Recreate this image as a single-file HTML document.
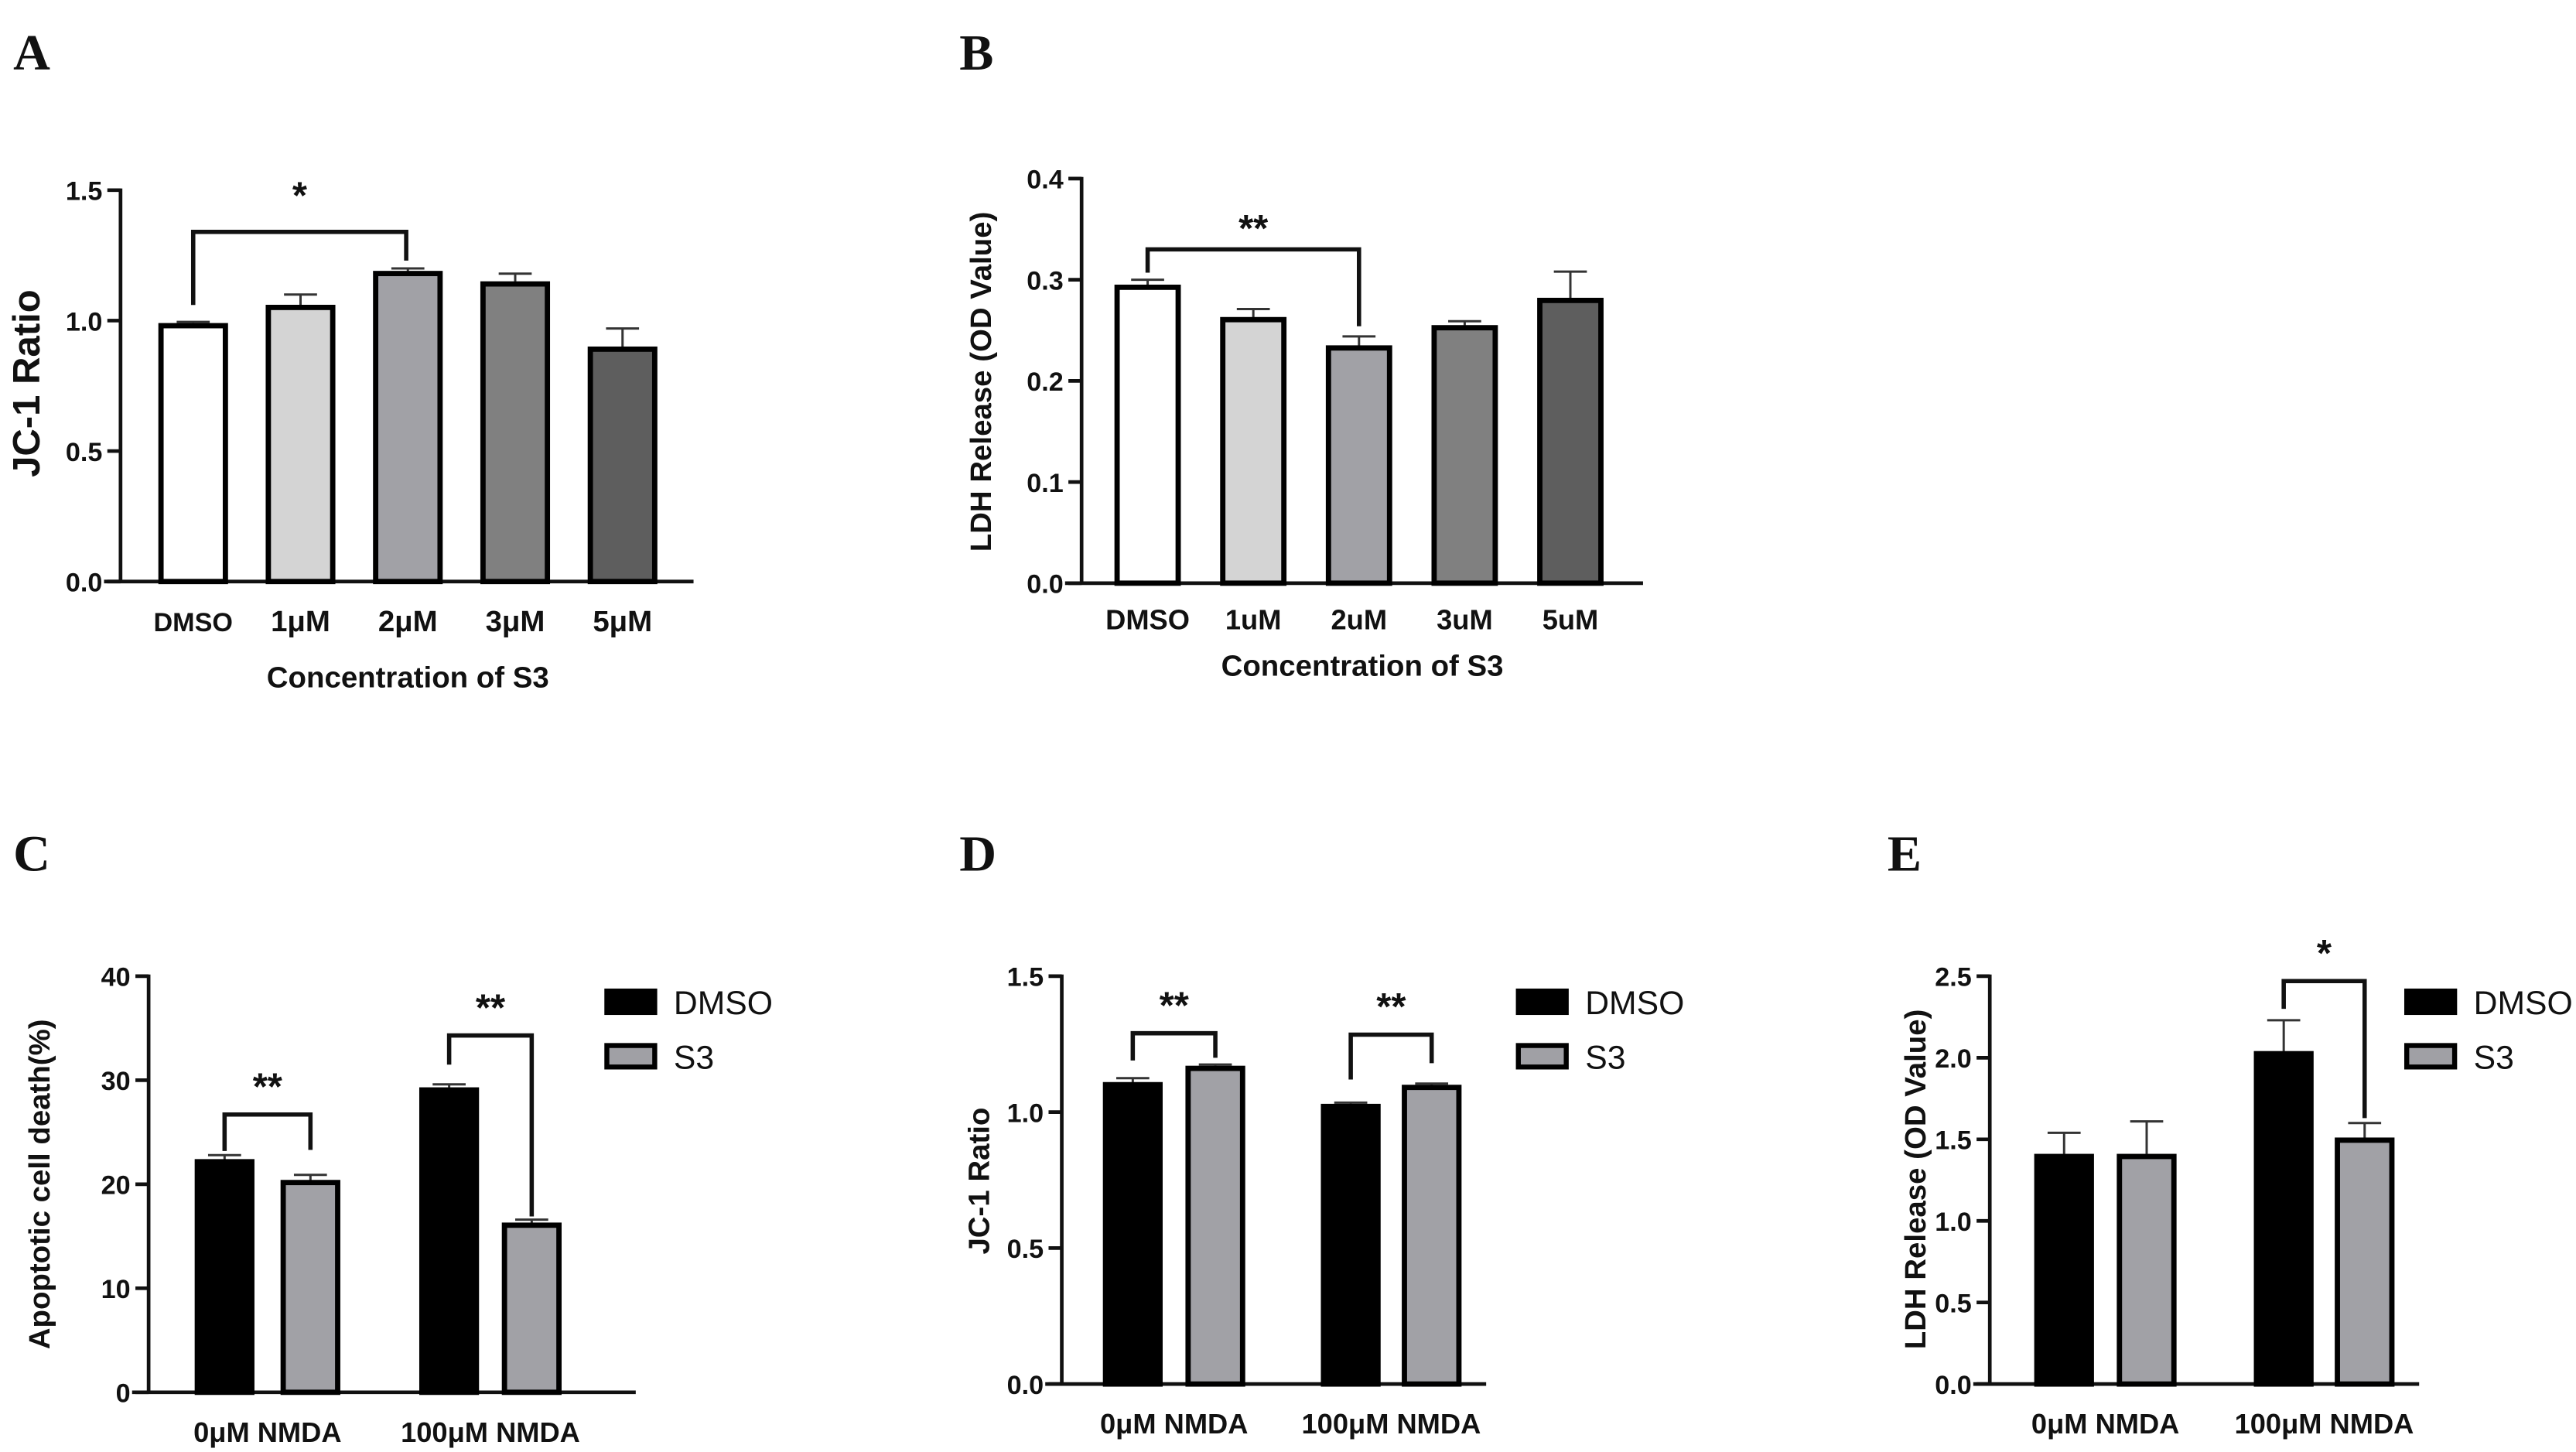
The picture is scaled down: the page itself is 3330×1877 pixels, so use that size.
<!DOCTYPE html>
<html><head><meta charset="utf-8"><style>
html,body{margin:0;padding:0;background:#fff;}
svg{display:block;}
text{font-family:"Liberation Sans",Arial,sans-serif;font-weight:bold;fill:#111;}
.lt{font-family:"Liberation Serif",serif;font-weight:bold;font-size:31px;}
.tk{font-size:16px;}
.ti{font-size:18px;}
.lg{font-family:"Liberation Sans",sans-serif;font-weight:normal;font-size:20px;}
</style></head><body>
<svg id="fig" width="3330" height="1877" viewBox="0 0 1560 879" xmlns="http://www.w3.org/2000/svg">
<text class="lt" x="8" y="42">A</text>
<text class="lt" x="581" y="42">B</text>
<text class="lt" x="8" y="527">C</text>
<text class="lt" x="581" y="527">D</text>
<text class="lt" x="1143" y="527">E</text>
</svg>
<script>
// Panel A
const catsA=["DMSO","1μM","2μM","3μM","5μM"];
const valsA=[0.99,1.06,1.19,1.15,0.90];
const errA=[0.005,0.04,0.01,0.03,0.07];
const ticksA=["0.0","0.5","1.0","1.5"];
// Panel B
const catsB=["DMSO","1uM","2uM","3uM","5uM"];
const valsB=[0.295,0.263,0.235,0.255,0.282];
const errB=[0.005,0.008,0.009,0.004,0.026];
const ticksB=["0.0","0.1","0.2","0.3","0.4"];
// Panel C
const groupsCDE=["0μM NMDA","100μM NMDA"];
const dmsoC=[22.4,29.3];const s3C=[20.4,16.3];
const dmsoCerr=[0.4,0.3];const s3Cerr=[0.5,0.3];
const ticksC=["0","10","20","30","40"];
// Panel D
const dmsoD=[1.11,1.03];const s3D=[1.17,1.10];
const dmsoDerr=[0.015,0.005];const s3Derr=[0.005,0.005];
const ticksD=["0.0","0.5","1.0","1.5"];
// Panel E
const dmsoE=[1.41,2.04];const s3E=[1.41,1.51];
const dmsoEerr=[0.13,0.19];const s3Eerr=[0.2,0.09];
const ticksE=["0.0","0.5","1.0","1.5","2.0","2.5"];

const NS="http://www.w3.org/2000/svg";
const svg=document.getElementById('fig');
function mk(tag,at,parent){const e=document.createElementNS(NS,tag);for(const k in at)e.setAttribute(k,at[k]);(parent||svg).appendChild(e);return e;}
function txt(s,at,parent){const e=mk('text',at,parent);e.textContent=s;return e;}

function axes(g,cfg){
  const y=v=>cfg.y0-(v-cfg.min)/(cfg.max-cfg.min)*(cfg.y0-cfg.y1);
  const ax=mk('line',{x1:cfg.ax,y1:cfg.y1-1,x2:cfg.ax,y2:cfg.y0,stroke:'#111','stroke-width':2.2},g);
  
  const xa=mk('line',{x1:cfg.ax-10,y1:cfg.y0,x2:cfg.xend,y2:cfg.y0,stroke:'#111','stroke-width':2.2},g);
  
  cfg.ticks.forEach(t=>{const v=parseFloat(t);const yy=y(v);
    mk('line',{x1:cfg.ax-8,y1:yy,x2:cfg.ax,y2:yy,stroke:'#111','stroke-width':2.2},g);
    const tl=txt(t,{x:cfg.ax-11,y:yy+6,'text-anchor':'end',class:'tk'},g);
    
  });
  const yt=txt(cfg.ytitle,{x:0,y:0,'text-anchor':'middle',class:'ti',transform:`translate(${cfg.ytx},${cfg.yty}) rotate(-90)`,style:cfg.ytsize?`font-size:${cfg.ytsize}px`:''},g);
  
  return y;
}
function bar(g,x,w,y,v,e,fill,name){
  const top=y(v),y0=y(0);
  const el=mk('line',{x1:x,y1:y(v+e),x2:x,y2:top,stroke:'#333','stroke-width':1.4},g);
  
  const cap=mk('line',{x1:x-10,y1:y(v+e),x2:x+10,y2:y(v+e),stroke:'#333','stroke-width':1.4},g);
  
  const r=mk('rect',{x:x-w/2+1.5,y:top+1.5,width:w-3,height:y0-top-1.5,fill:fill,stroke:'#000','stroke-width':3.2},g);
  
}
function bracket(g,x1,x2,yTop,yL,yR,label,sy){
  const p=mk('path',{d:`M${x1},${yL}V${yTop}H${x2}V${yR}`,fill:'none',stroke:'#111','stroke-width':2.6},g);
  
  const t=txt(label,{x:(x1+x2)/2,y:sy,'text-anchor':'middle',style:'font-size:23px'},g);
  
}
function legend(g,x,yy){
  [['DMSO','#000'],['S3','#a0a0a5']].forEach((d,i)=>{
    const r=mk('rect',{x:x+1.5,y:yy+i*33-7,width:29,height:13,fill:d[1],stroke:'#000','stroke-width':3},g);
    
    const t=txt(d[0],{x:x+42,y:yy+i*33+7,class:'lg'},g);
    
  });
}
function panel(name){const g=mk('g',{});return g;}

// A
(function(){const g=panel('panel-a-chart');
  const y=axes(g,{ax:73,y0:352,y1:115,min:0,max:1.5,xend:420,ticks:ticksA,ytitle:'JC-1 Ratio',ytx:24,yty:232,ytsize:23});
  const fills=['#ffffff','#d4d4d4','#a1a1a6','#808080','#5e5e5e'];
  catsA.forEach((c,i)=>{const x=117+i*65;bar(g,x,42,y,valsA[i],errA[i],fills[i],'bar-a-'+i);
    const t=txt(c,{x:x,y:382,'text-anchor':'middle',class:'tk',style:i?'font-size:18px':''},g);});
  bracket(g,117,246,y(1.34),y(1.06),y(1.23),'*',126);
  const t=txt('Concentration of S3',{x:247,y:416,'text-anchor':'middle',class:'ti'},g);
})();
// B
(function(){const g=panel('panel-b-chart');
  const y=axes(g,{ax:655,y0:353,y1:108,min:0,max:0.4,xend:995,ticks:ticksB,ytitle:'LDH Release (OD Value)',ytx:600,yty:231});
  const fills=['#ffffff','#d4d4d4','#a1a1a6','#808080','#5e5e5e'];
  catsB.forEach((c,i)=>{const x=695+i*64;bar(g,x,40,y,valsB[i],errB[i],fills[i],'bar-b-'+i);
    const t=txt(c,{x:x,y:381,'text-anchor':'middle',class:'tk',style:'font-size:17px'},g);});
  bracket(g,695,823,y(0.33),y(0.307),y(0.254),'**',146);
  const t=txt('Concentration of S3',{x:825,y:409,'text-anchor':'middle',class:'ti'},g);
})();
function groupPanel(name,cfg,dm,s3,dme,s3e,xs,br){
  const g=panel(name);
  const y=axes(g,cfg);
  groupsCDE.forEach((c,i)=>{
    bar(g,xs[i][0],36,y,dm[i],dme[i],'#000','bar-dmso-'+i);
    bar(g,xs[i][1],36,y,s3[i],s3e[i],'#a1a1a6','bar-s3-'+i);
    const t=txt(c,{x:(xs[i][0]+xs[i][1])/2,y:cfg.y0+30,'text-anchor':'middle',class:'tk',style:'font-size:17px'},g);
  });
  br.forEach(b=>bracket(g,xs[b.i][0],xs[b.i][1],y(b.top),y(b.l),y(b.r),b.s,y(b.top)-9));
  legend(g,cfg.lx,607);
}
groupPanel('panel-c-chart',{ax:90,y0:843,y1:591,min:0,max:40,xend:385,ticks:ticksC,ytitle:'Apoptotic cell death(%)',ytx:30,yty:717,lx:366},
  dmsoC,s3C,dmsoCerr,s3Cerr,[[136,188],[272,322]],
  [{i:0,top:26.7,l:23.2,r:23.3,s:'**'},{i:1,top:34.3,l:31.5,r:16.9,s:'**'}]);
groupPanel('panel-d-chart',{ax:643,y0:838,y1:591,min:0,max:1.5,xend:900,ticks:ticksD,ytitle:'JC-1 Ratio',ytx:599,yty:715,lx:918},
  dmsoD,s3D,dmsoDerr,s3Derr,[[686,736],[818,867]],
  [{i:0,top:1.29,l:1.19,r:1.20,s:'**'},{i:1,top:1.285,l:1.12,r:1.18,s:'**'}]);
groupPanel('panel-e-chart',{ax:1205,y0:838,y1:591,min:0,max:2.5,xend:1465,ticks:ticksE,ytitle:'LDH Release (OD Value)',ytx:1166,yty:714,lx:1456},
  dmsoE,s3E,dmsoEerr,s3Eerr,[[1250,1300],[1383,1432]],
  [{i:1,top:2.47,l:2.3,r:1.63,s:'*'}]);
</script>
</body></html>
